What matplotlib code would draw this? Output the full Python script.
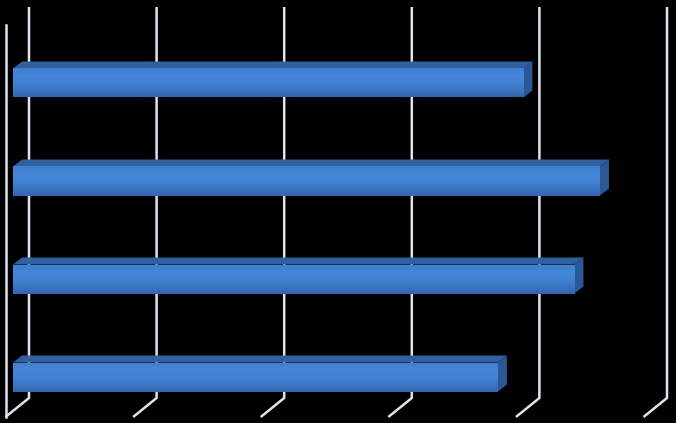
import numpy as np
import matplotlib.pyplot as plt
from matplotlib.patches import Polygon

# Data (axis assumed 0-100 step 20, no labels shown)
categories = ['A', 'B', 'C', 'D']
values = [80, 92, 88, 76]
grid_ticks = [0, 20, 40, 60, 80, 100]

W, H = 676, 423
ppu = 127.6 / 20          # pixels per value unit
x0 = 13                   # pixel of value 0 on the bars' front plane
row_px = 98               # pixels between category rows
first_px = 83             # centre of first bar, pixels from top

fig = plt.figure(figsize=(W / 100, H / 100), dpi=100, facecolor='black')
ax = fig.add_axes([0, 0, 1, 1])
ax.set_facecolor('black')
ax.axis('off')

def px_x(p):
    return p / ppu

def px_y(p):
    return p / row_px

def y_of_px(p):
    return (p - first_px) / row_px

# walls / gridlines
grid_col = '#dfe3ec'
back_dx, front_dx = px_x(16), px_x(-7.5)
y_top, y_floor_back, y_floor_front = y_of_px(7), y_of_px(398), y_of_px(417)
for g in grid_ticks:
    ax.plot([g + back_dx, g + back_dx, g + front_dx],
            [y_top, y_floor_back, y_floor_front],
            color=grid_col, lw=1.8, solid_capstyle='butt', zorder=1)
# left wall front edge
ax.plot([front_dx, front_dx], [y_of_px(25), y_floor_front],
        color=grid_col, lw=1.8, zorder=1)

# bars with a fake 3D look
bar_h = px_y(29)
ddx, ddy = px_x(9), px_y(-7)
top_col = '#30609f'
side_col = '#2b5895'
grad = np.array([[0.25, 0.50, 0.80], [0.27, 0.53, 0.85], [0.26, 0.51, 0.83],
                 [0.23, 0.46, 0.76], [0.20, 0.40, 0.69]])
pos = np.linspace(0, 1, len(grad))
t = np.linspace(0, 1, 64)
img = np.stack([np.interp(t, pos, grad[:, c]) for c in range(3)], axis=-1)[:, None, :]

for i, v in enumerate(values):
    yt, yb = i - bar_h / 2, i + bar_h / 2
    top = Polygon([(0, yt), (v, yt), (v + ddx, yt + ddy), (ddx, yt + ddy)],
                  closed=True, facecolor=top_col, edgecolor='none', zorder=3)
    side = Polygon([(v, yt), (v + ddx, yt + ddy), (v + ddx, yb + ddy), (v, yb)],
                   closed=True, facecolor=side_col, edgecolor='none', zorder=3)
    ax.add_patch(top)
    ax.add_patch(side)
    ax.imshow(img, extent=(0, v, yb, yt), aspect='auto', zorder=4,
              interpolation='bilinear')

ax.set_xlim(-x0 / ppu, (W - x0) / ppu)
ax.set_ylim((H - first_px) / row_px, -first_px / row_px)

fig.savefig('out.png', dpi=100, facecolor='black')
